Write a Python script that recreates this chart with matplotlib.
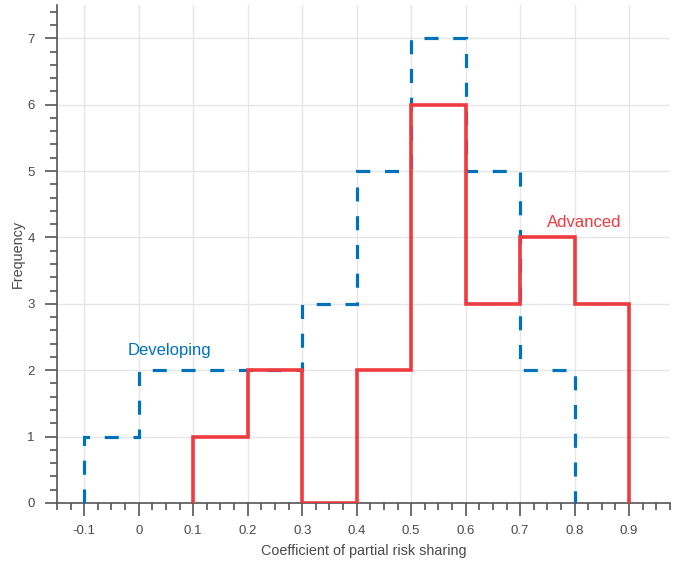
import numpy as np
import matplotlib.pyplot as plt
from matplotlib.ticker import MultipleLocator

plt.rcParams['font.family'] = ['Liberation Sans', 'DejaVu Sans']

# histogram data
edges_dev = [-0.1, 0.0, 0.1, 0.2, 0.3, 0.4, 0.5, 0.6, 0.7, 0.8]
freq_dev = [1, 2, 2, 2, 3, 5, 7, 5, 2]
edges_adv = [0.1, 0.2, 0.3, 0.4, 0.5, 0.6, 0.7, 0.8, 0.9]
freq_adv = [1, 2, 0, 2, 6, 3, 4, 3]

xticks = [-0.1, 0, 0.1, 0.2, 0.3, 0.4, 0.5, 0.6, 0.7, 0.8, 0.9]
xtick_labels = ['-0.1', '0', '0.1', '0.2', '0.3', '0.4', '0.5', '0.6', '0.7', '0.8', '0.9']

azul = '#0072BD'
vermelho = '#EF3A3F'
cinza = '#555555'

fig = plt.figure(figsize=(6.73, 5.61), dpi=100)
ax = fig.add_axes([0.0847, 0.1034, 0.9108, 0.8876])

ax.stairs(freq_dev, edges_dev, baseline=0, color=azul, linewidth=2.3,
          linestyle=(0, (4.4, 4.6)), zorder=3)
ax.stairs(freq_adv, edges_adv, baseline=0, color=vermelho, linewidth=2.6, zorder=4)

ax.text(0.056, 2.29, 'Developing', color=azul, fontsize=12, ha='center', va='center')
ax.text(0.818, 4.23, 'Advanced', color=vermelho, fontsize=12, ha='center', va='center')

ax.set_xlim(-0.15, 0.975)
ax.set_ylim(0, 7.5)
ax.set_xticks(xticks)
ax.set_xticklabels(xtick_labels)
ax.set_yticks(range(0, 8))
ax.xaxis.set_minor_locator(MultipleLocator(0.025))
ax.yaxis.set_minor_locator(MultipleLocator(0.2))

ax.grid(True, which='major', color='#E6E6E6', linewidth=1.0, zorder=0)
ax.set_axisbelow(True)

for lado in ['top', 'right']:
    ax.spines[lado].set_visible(False)
for lado in ['left', 'bottom']:
    ax.spines[lado].set_color(cinza)
    ax.spines[lado].set_linewidth(1.2)

ax.tick_params(which='major', direction='out', length=9, width=1.2, color=cinza,
               labelcolor='#4a4a4a', labelsize=9.5, pad=7)
ax.tick_params(which='minor', direction='out', length=5, width=1.2, color=cinza)

ax.set_xlabel('Coefficient of partial risk sharing', fontsize=10.4, color='#4a4a4a', labelpad=5)
ax.set_ylabel('Frequency', fontsize=10.4, color='#4a4a4a', labelpad=2)

fig.savefig('out.png', dpi=100)
